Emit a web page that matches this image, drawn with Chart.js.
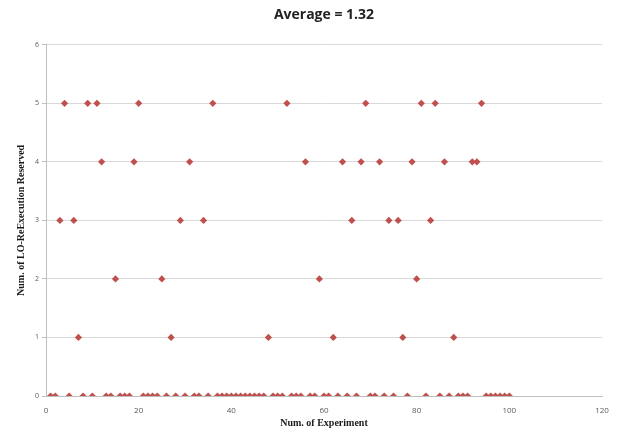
<!DOCTYPE html>
<html>
<head>
<meta charset="utf-8">
<script src="https://cdn.jsdelivr.net/npm/chart.js@4.4.0/dist/chart.umd.min.js"></script>
<style>
  html, body { margin: 0; padding: 0; background: #fff; }
  #wrap { width: 624px; height: 432px; }
</style>
</head>
<body>
<div id="wrap"><canvas id="scatter-chart"></canvas></div>
<script>
// experiment number 1..100 and the reserved count for each one
const experiments = Array.from({ length: 100 }, (_, i) => i + 1);
const reserved = [
  0, 0, 3, 5, 0, 3, 1, 0, 5, 0,
  5, 4, 0, 0, 2, 0, 0, 0, 4, 5,
  0, 0, 0, 0, 2, 0, 1, 0, 3, 0,
  4, 0, 0, 3, 0, 5, 0, 0, 0, 0,
  0, 0, 0, 0, 0, 0, 0, 1, 0, 0,
  0, 5, 0, 0, 0, 4, 0, 0, 2, 0,
  0, 1, 0, 4, 0, 3, 0, 4, 5, 0,
  0, 4, 0, 3, 0, 3, 1, 0, 4, 2,
  5, 0, 3, 5, 0, 4, 0, 1, 0, 0,
  0, 4, 4, 5, 0, 0, 0, 0, 0, 0,
];
const xTicks = [0, 20, 40, 60, 80, 100, 120];
const yTicks = [0, 1, 2, 3, 4, 5, 6];

const points = experiments.map((x, i) => ({ x: x, y: reserved[i] }));

const canvaEl = document.getElementById("scatter-chart");

new Chart(canvaEl, {
  type: "scatter",
  data: {
    datasets: [
      {
        label: "Reserved",
        data: points,
        pointStyle: "rectRot",
        pointRadius: 3.6,
        pointHoverRadius: 3.6,
        backgroundColor: "#c0504d",
        borderColor: "#c0504d",
        borderWidth: 0,
      },
    ],
  },
  options: {
    responsive: true,
    maintainAspectRatio: false,
    animation: false,
    layout: { padding: { left: 0, right: 22, top: 0, bottom: 0 } },
    plugins: {
      legend: { display: false },
      tooltip: { enabled: false },
      title: {
        display: true,
        text: "Average = 1.32",
        fullSize: false,
        color: "#222",
        font: { family: "Open Sans", size: 14, weight: "bold" },
        padding: { top: 7, bottom: 21 },
      },
    },
    scales: {
      x: {
        type: "linear",
        min: 0,
        max: 120,
        afterBuildTicks: (axis) => {
          axis.ticks = xTicks.map((v) => ({ value: v }));
        },
        afterFit: (axis) => {
          axis.height = 36;
        },
        grid: { display: false },
        border: { display: true, color: "#bfbfbf", width: 1 },
        ticks: {
          color: "#595959",
          font: { family: "Open Sans", size: 8 },
          padding: 2,
        },
        title: {
          display: true,
          text: "Num. of Experiment",
          color: "#1a1a1a",
          font: { family: "Liberation Serif", size: 10, weight: "bold" },
          padding: { top: 0, bottom: 3 },
        },
      },
      y: {
        type: "linear",
        min: 0,
        max: 6,
        afterBuildTicks: (axis) => {
          axis.ticks = yTicks.map((v) => ({ value: v }));
        },
        afterFit: (axis) => {
          axis.width = 46;
        },
        grid: {
          color: "#d9d9d9",
          tickColor: "#bfbfbf",
          tickLength: 4,
        },
        border: { display: true, color: "#bfbfbf", width: 1 },
        ticks: {
          color: "#595959",
          font: { family: "Open Sans", size: 7 },
          padding: 3,
        },
        title: {
          display: true,
          text: "Num. of LO-ReExecution Reserved",
          color: "#1a1a1a",
          font: { family: "Liberation Serif", size: 10, weight: "bold" },
          padding: { top: 15, bottom: 0 },
        },
      },
    },
  },
});
</script>
</body>
</html>
